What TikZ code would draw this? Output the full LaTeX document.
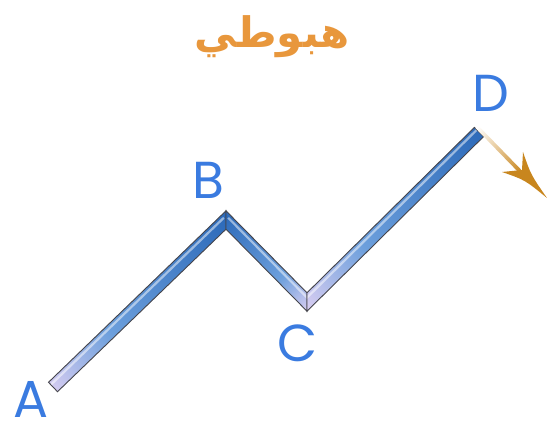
\documentclass[tikz,border=0pt]{standalone}
\usepackage{fontspec}
\setmainfont{Poppins}
\newfontfamily\arabicfont[Script=Arabic]{DejaVu Sans}
\TeXXeTstate=1
\usetikzlibrary{calc}
\definecolor{lbl}{HTML}{3A7BE0}
\definecolor{ttl}{HTML}{E8973C}
\definecolor{bardark}{HTML}{2A68B8}
\definecolor{barmid}{HTML}{6C9FDC}
\definecolor{barlight}{HTML}{DCCFF2}
\definecolor{edge}{HTML}{45454C}
\definecolor{arr}{HTML}{C8861E}
\pgfdeclarehorizontalshading{barup}{100bp}{color(0bp)=(barlight); color(25bp)=(barlight); color(42bp)=(barmid); color(75bp)=(bardark); color(100bp)=(bardark)}
\pgfdeclarehorizontalshading{bardown}{100bp}{color(0bp)=(bardark); color(25bp)=(bardark); color(58bp)=(barmid); color(75bp)=(barlight); color(100bp)=(barlight)}
\tikzset{
  ptlabel/.style={text=lbl, font=\fontsize{52}{52}\selectfont, inner sep=0pt},
  baroutline/.style={draw=edge, line width=0.9pt, line join=miter},
  shinenarrow/.style={white, opacity=0.5, line width=2.2pt},
}
\begin{document}
\begin{tikzpicture}[x=1pt,y=-1pt]
\useasboundingbox (0,0) rectangle (547,430);
% centre points
\coordinate (A) at (53,387);
\coordinate (B) at (226,220);
\coordinate (C) at (307,302);
\coordinate (D) at (479,132);
% title
\node[text=ttl, font=\arabicfont\bfseries\fontsize{42}{42}\selectfont, inner sep=0pt] (title) at (272,37) {\beginR هبوطي\endR};
% bar A-B
\begin{scope}
  \clip (48.5,382.3) -- (226,210.8) -- (226,229.2) -- (57.5,391.7) -- cycle;
  \begin{scope}[transform canvas={shift={(A)}, rotate=44}]
    \shade[shading=barup] (-8,-14) rectangle (248,14);
  \end{scope}
  \draw[shinenarrow] ($(A)+(-2.2,-2.2)$) -- ($(B)+(-2.2,-2.2)$);
\end{scope}
\draw[baroutline] (48.5,382.3) -- (226,210.8) -- (226,229.2) -- (57.5,391.7) -- cycle;
% bar B-C
\begin{scope}
  \clip (226,210.8) -- (307,292.8) -- (307,311.2) -- (226,229.2) -- cycle;
  \begin{scope}[transform canvas={shift={(B)}, rotate=-45.35}]
    \shade[shading=bardown] (-8,-14) rectangle (124,14);
  \end{scope}
  \draw[shinenarrow] ($(B)+(2.2,-2.2)$) -- ($(C)+(2.2,-2.2)$);
\end{scope}
\draw[baroutline] (226,210.8) -- (307,292.8) -- (307,311.2) -- (226,229.2) -- cycle;
% bar C-D
\begin{scope}
  \clip (307,292.8) -- (474.4,127.4) -- (483.6,136.6) -- (307,311.2) -- cycle;
  \begin{scope}[transform canvas={shift={(C)}, rotate=44.67}]
    \shade[shading=barup] (-8,-14) rectangle (250,14);
  \end{scope}
  \draw[shinenarrow] ($(C)+(-2.2,-2.2)$) -- ($(D)+(-2.2,-2.2)$);
\end{scope}
\draw[baroutline] (307,292.8) -- (474.4,127.4) -- (483.6,136.6) -- (307,311.2) -- cycle;
% arrow
\coordinate (tip) at (547,198);
\coordinate (notch) at (522,170);
\begin{scope}[transform canvas={shift={(477,127)}, rotate=-45.8}]
  \shade[left color=white, right color=arr] (0,-1.9) rectangle (64,1.9);
\end{scope}
\fill[arr] (tip) .. controls (531,175) .. (523,152) -- (notch) -- (502,172) .. controls (525,180) .. (tip) -- cycle;
% labels
\node[ptlabel] (lA) at (31,399) {A};
\node[ptlabel] (lB) at (208,180) {B};
\node[ptlabel] (lC) at (298,343) {C};
\node[ptlabel] (lD) at (491,93) {D};
\end{tikzpicture}
\end{document}
